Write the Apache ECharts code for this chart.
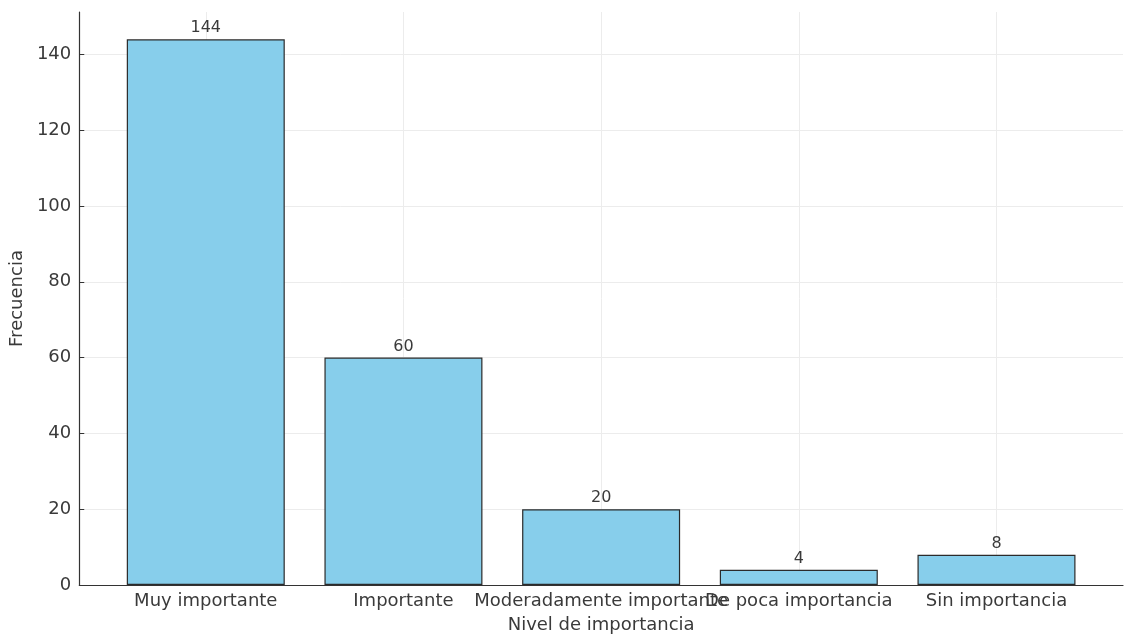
<!DOCTYPE html>
<html>
<head>
<meta charset="utf-8">
<script src="https://cdn.jsdelivr.net/npm/echarts@6/dist/echarts.min.js"></script>
<style>
  html, body { margin: 0; padding: 0; background: #fff; }
  #chart { width: 1126px; height: 639px; }
</style>
</head>
<body>
<div id="chart"></div>
<script>
// Frequency of each importance level
const categories = ['Muy importante', 'Importante', 'Moderadamente importante', 'De poca importancia', 'Sin importancia'];
const frequencies = [144, 60, 20, 4, 8];
const yTicks = [0, 20, 40, 60, 80, 100, 120, 140];

const positions = categories.map((_, i) => i);
const barData = frequencies.map((v, i) => [i, v]);

const textColor = '#3a3a3a';
const font = 'DejaVu Sans';

const chart = echarts.init(document.getElementById('chart'), null, { renderer: 'canvas' });
chart.setOption({
  animation: false,
  backgroundColor: '#ffffff',
  grid: { left: 79, right: 3, top: 12, bottom: 52, containLabel: false },
  xAxis: {
    type: 'value',
    min: -0.64,
    max: 4.64,
    name: 'Nivel de importancia',
    nameLocation: 'middle',
    nameGap: 31,
    nameTextStyle: { color: textColor, fontSize: 18, fontFamily: font },
    axisLine: { show: true, onZero: false, lineStyle: { color: '#333', width: 1.2 } },
    axisTick: { show: true, inside: true, length: 5, customValues: positions, lineStyle: { color: '#333' } },
    axisLabel: {
      customValues: positions,
      color: textColor, fontSize: 18, fontFamily: font, margin: 7,
      hideOverlap: false,
      formatter: v => categories[Math.round(v)] ?? ''
    },
    splitLine: { show: true, lineStyle: { color: '#ececec', width: 1 } }
  },
  yAxis: {
    type: 'value',
    min: 0,
    max: 151.2,
    name: 'Frecuencia',
    nameLocation: 'middle',
    nameGap: 52,
    nameTextStyle: { color: textColor, fontSize: 18, fontFamily: font },
    axisLine: { show: true, onZero: false, lineStyle: { color: '#333', width: 1.2 } },
    axisTick: { show: true, inside: true, length: 5, customValues: yTicks, lineStyle: { color: '#333' } },
    axisLabel: { customValues: yTicks, color: textColor, fontSize: 18, fontFamily: font, margin: 8 },
    splitLine: { show: true, lineStyle: { color: '#ececec', width: 1 } }
  },
  series: [{
    type: 'bar',
    data: barData,
    barWidth: 158,
    itemStyle: { color: '#87ceeb', borderColor: '#2b2b2b', borderWidth: 1.2 },
    label: {
      show: true, position: 'top', distance: 3,
      color: textColor, fontSize: 16, fontFamily: font,
      formatter: p => String(p.value[1])
    },
    z: 3
  }]
});
</script>
</body>
</html>
